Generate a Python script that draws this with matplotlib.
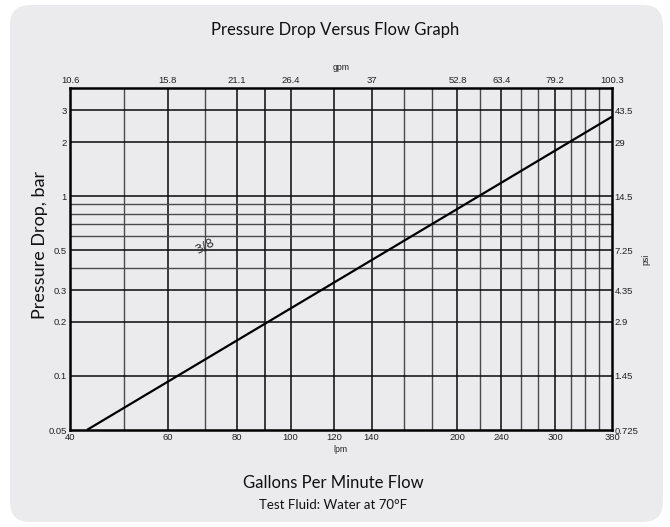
import matplotlib
matplotlib.use("Agg")
import matplotlib.pyplot as plt
from matplotlib.patches import FancyBboxPatch
from matplotlib.transforms import IdentityTransform

# Flow axis (litres per minute) and matching gallons-per-minute labels
lpm_ticks = [40, 60, 80, 100, 120, 140, 200, 240, 300, 380]
gpm_ticks_at = [40, 60, 80, 100, 140, 200, 240, 300, 380]
gpm_labels = ["10.6", "15.8", "21.1", "26.4", "37", "52.8", "63.4", "79.2", "100.3"]

# Pressure axis (bar) and matching psi labels
bar_ticks = [0.05, 0.1, 0.2, 0.3, 0.5, 1, 2, 3]
bar_labels = ["0.05", "0.1", "0.2", "0.3", "0.5", "1", "2", "3"]
psi_labels = ["0.725", "1.45", "2.9", "4.35", "7.25", "14.5", "29", "43.5"]

# Grid lines of the log-log chart paper
grid_x = [50, 60, 70, 80, 90, 100, 120, 140, 160, 180, 200, 220, 240,
          260, 280, 300, 320, 340, 360]
grid_y = [0.1, 0.2, 0.3, 0.4, 0.5, 0.6, 0.7, 0.8, 0.9, 1, 2, 3]

# 3/8 valve pressure-drop curve
curve_flow = [42.9, 380]
curve_dp = [0.05, 2.77]

x_lim = (40, 380)
y_lim = (0.05, 4.0)

W, H, DPI = 6.7, 5.27, 100
fig = plt.figure(figsize=(W, H), dpi=DPI, facecolor="white")

# rounded grey panel behind everything
panel = FancyBboxPatch((10, 5), 653, 517,
                       boxstyle="round,pad=0,rounding_size=20",
                       transform=IdentityTransform(),
                       facecolor="#ebebed", edgecolor="none", zorder=-10)
fig.patches.append(panel)

tick_font = dict(family="Liberation Sans", size=6.8, color="#222222")
big_font = "Lato"

ax = fig.add_axes([70 / 670, 1 - 430 / 527, 542 / 670, 342 / 527], zorder=2)
ax.patch.set_alpha(0)
ax.set_xscale("log")
ax.set_yscale("log")
ax.set_xlim(*x_lim)
ax.set_ylim(*y_lim)

for gx in grid_x:
    strong = gx in lpm_ticks or gx in (90,)
    ax.axvline(gx, color="#111111" if strong else "#4a4a4a",
               lw=1.15 if strong else 1.0, zorder=1)
for gy in grid_y:
    strong = gy in bar_ticks
    ax.axhline(gy, color="#111111" if strong else "#4a4a4a",
               lw=1.15 if strong else 1.0, zorder=1)

ax.plot(curve_flow, curve_dp, color="black", lw=1.6, zorder=3,
        solid_capstyle="butt")
ax.text(70, 0.53, "3/8", rotation=28, ha="center", va="center",
        fontsize=9, color="#333333", family="DejaVu Sans", zorder=4)

ax.set_xticks(lpm_ticks)
ax.set_xticklabels([str(v) for v in lpm_ticks], fontdict=tick_font)
ax.xaxis.set_minor_locator(matplotlib.ticker.NullLocator())
ax.set_yticks(bar_ticks)
ax.set_yticklabels(bar_labels, fontdict=tick_font)
ax.yaxis.set_minor_locator(matplotlib.ticker.NullLocator())
ax.tick_params(axis="both", length=0, pad=2.5)
for s in ax.spines.values():
    s.set_linewidth(1.8)
    s.set_color("black")

ax_top = ax.twiny()
ax_top.set_xscale("log")
ax_top.set_xlim(*x_lim)
ax_top.set_xticks(gpm_ticks_at)
ax_top.set_xticklabels(gpm_labels, fontdict=tick_font)
ax_top.xaxis.set_minor_locator(matplotlib.ticker.NullLocator())
ax_top.tick_params(length=0, pad=2)
for s in ax_top.spines.values():
    s.set_visible(False)

ax_right = ax.twinx()
ax_right.set_yscale("log")
ax_right.set_ylim(*y_lim)
ax_right.set_yticks(bar_ticks)
ax_right.set_yticklabels(psi_labels, fontdict=tick_font)
ax_right.yaxis.set_minor_locator(matplotlib.ticker.NullLocator())
ax_right.tick_params(length=0, pad=2)
for s in ax_right.spines.values():
    s.set_visible(False)

fig.text(335 / 670, 1 - 30 / 527, "Pressure Drop Versus Flow Graph",
         ha="center", va="center", fontsize=12, family=big_font, color="#111111")
fig.text(341 / 670, 1 - 68 / 527, "gpm", ha="center", va="center",
         fontsize=6.3, family="Liberation Sans", color="#222222")
fig.text(340 / 670, 1 - 450 / 527, "lpm", ha="center", va="center",
         fontsize=6.3, family="Liberation Sans", color="#222222")
fig.text(646 / 670, 1 - 259 / 527, "psi", ha="center", va="center",
         rotation=90, fontsize=6.3, family="Liberation Sans", color="#222222")
fig.text(40 / 670, 1 - 245 / 527, "Pressure Drop, bar", ha="center",
         va="center", rotation=90, fontsize=13, family=big_font, color="#111111")
fig.text(333 / 670, 1 - 483 / 527, "Gallons Per Minute Flow", ha="center",
         va="center", fontsize=12, family=big_font, color="#111111")
fig.text(333 / 670, 1 - 505 / 527, "Test Fluid: Water at 70°F", ha="center",
         va="center", fontsize=9.5, family=big_font, color="#111111")

fig.savefig("out.png", dpi=DPI, facecolor="white")
